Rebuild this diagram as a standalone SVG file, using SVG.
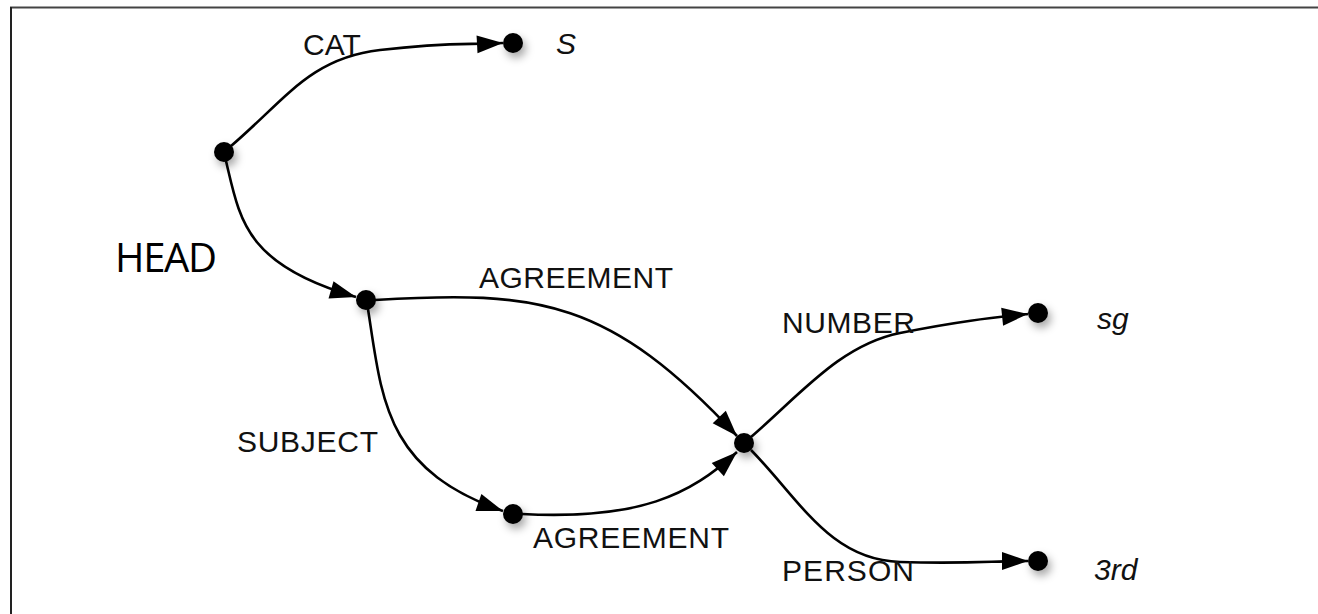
<svg xmlns="http://www.w3.org/2000/svg" width="1318" height="614" viewBox="0 0 1318 614">
<style>
.lbl{font-family:"Liberation Sans",Arial,sans-serif;font-size:30px;fill:#111}
.val{font-family:"Liberation Sans",Arial,sans-serif;font-size:30px;font-style:italic;fill:#111}
.head{font-family:"Open Sans","Liberation Sans",sans-serif;font-size:40px;fill:#000}
.edge{fill:none;stroke:#000;stroke-width:2.6;marker-end:url(#arr)}
.dot{fill:#000;filter:url(#sh)}
</style>
<defs>
<marker id="arr" markerUnits="userSpaceOnUse" markerWidth="28" markerHeight="20" viewBox="0 0 28 20" refX="27" refY="10" orient="auto">
<path d="M1,1 L27,10 L1,19 Z" fill="#000"/>
</marker>
<filter id="sh" x="-100%" y="-100%" width="300%" height="300%">
<feDropShadow dx="3" dy="5" stdDeviation="4" flood-color="#000" flood-opacity="0.35"/>
</filter>
</defs>
<rect x="0" y="0" width="1318" height="614" fill="#fff"/>
<g id="frame">
<line x1="10" y1="7.5" x2="1318" y2="7.5" stroke="#444" stroke-width="2"/>
<line x1="11" y1="7" x2="11" y2="614" stroke="#222" stroke-width="2"/>
</g>
<g id="connectors">
<path class="edge" d="M231,146 C285,100 310,58 380,50 S465,45 503,43"/>
<path class="edge" d="M226,161 C240,220 245,265 356,297"/>
<path class="edge" d="M375,300 C540,290 610,300 737,436"/>
<path class="edge" d="M368,309 C382,400 385,470 503,511"/>
<path class="edge" d="M522,514 C640,520 690,495 737,452"/>
<path class="edge" d="M751,437 C800,395 840,345 900,333 S990,318 1028,314"/>
<path class="edge" d="M751,450 C800,500 830,560 900,562 S990,561 1028,561"/>
</g>
<g id="labels">
<text class="lbl" x="303" y="55">CAT</text>
<text class="head" x="115" y="272" textLength="102">HEAD</text>
<text class="lbl" x="479" y="288" textLength="194">AGREEMENT</text>
<text class="lbl" x="782" y="333" textLength="133">NUMBER</text>
<text class="lbl" x="237" y="452" textLength="141">SUBJECT</text>
<text class="lbl" x="533" y="548" textLength="196">AGREEMENT</text>
<text class="lbl" x="782" y="581" textLength="132">PERSON</text>
</g>
<g id="node-root"><ellipse class="dot" cx="224" cy="152" rx="10" ry="10"/></g>
<g id="node-s"><ellipse class="dot" cx="513" cy="43" rx="10" ry="10"/><text class="val" x="556" y="54">S</text></g>
<g id="node-head"><ellipse class="dot" cx="366" cy="300" rx="10" ry="10"/></g>
<g id="node-subject"><ellipse class="dot" cx="513" cy="514" rx="10" ry="10"/></g>
<g id="node-agr"><ellipse class="dot" cx="744" cy="443" rx="10" ry="10"/></g>
<g id="node-sg"><ellipse class="dot" cx="1038" cy="313" rx="10" ry="10"/><text class="val" x="1097" y="329">sg</text></g>
<g id="node-3rd"><ellipse class="dot" cx="1038" cy="561" rx="10" ry="10"/><text class="val" x="1094" y="580">3rd</text></g>
</svg>
